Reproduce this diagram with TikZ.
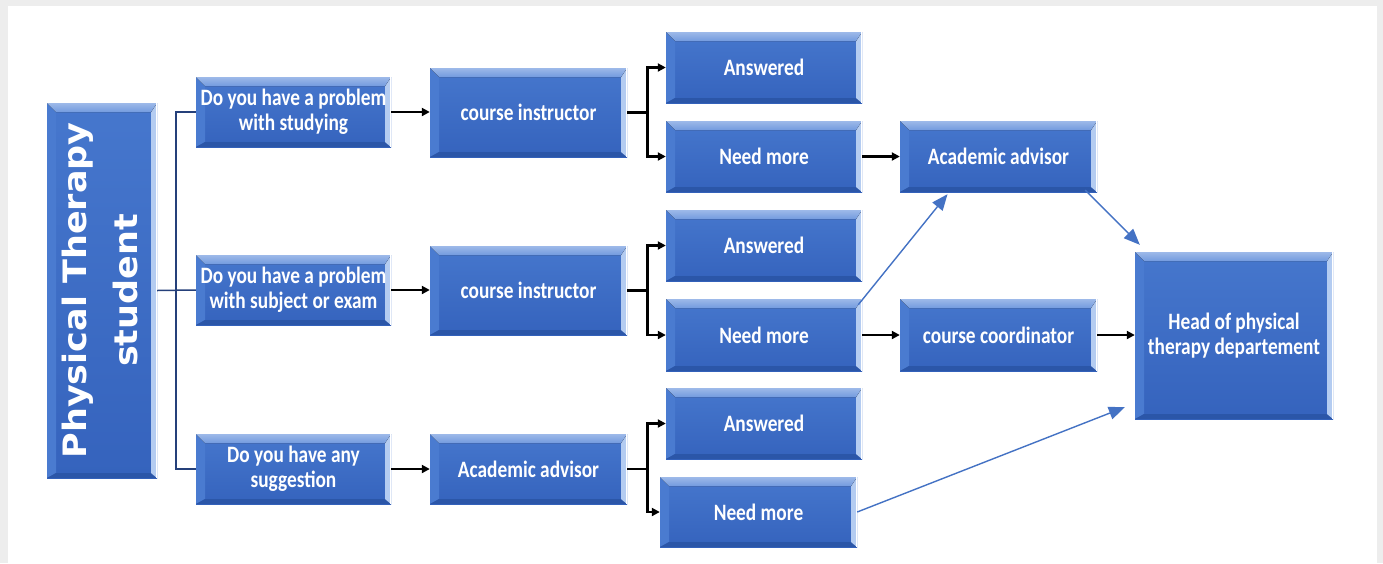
\documentclass[tikz,border=0pt]{standalone}
\usepackage{fontspec}
\usepackage{graphicx}
\usetikzlibrary{arrows.meta,calc}
\newfontfamily\boxfont[FakeStretch=0.823]{Carlito}
\newfontfamily\ptfont{DejaVu Sans}
\definecolor{frame}{HTML}{EDEDED}
\definecolor{boxtop}{HTML}{4677CD}
\definecolor{boxbot}{HTML}{3563BD}
\definecolor{bevtop}{HTML}{739BDF}
\definecolor{bevleft}{HTML}{4A7BD0}
\definecolor{bevright}{HTML}{B4CCF1}
\definecolor{bevbot}{HTML}{2B56A8}
\definecolor{navy}{HTML}{25407A}
\definecolor{bluearr}{HTML}{4472C4}
\tikzset{
  box/.style={rectangle, inner sep=0pt, top color=boxtop, bottom color=boxbot,
    text=white, align=center, font=\boxfont\bfseries\fontsize{23.5}{25}\selectfont,
    path picture={
      \coordinate (bnw) at (path picture bounding box.north west);
      \coordinate (bne) at (path picture bounding box.north east);
      \coordinate (bsw) at (path picture bounding box.south west);
      \coordinate (bse) at (path picture bounding box.south east);
      \fill[bevleft] (bnw) -- ([shift={(9pt,-9pt)}]bnw) -- ([shift={(9pt,5pt)}]bsw) -- (bsw) -- cycle;
      \fill[bevbot] (bsw) -- ([shift={(9pt,5pt)}]bsw) -- ([shift={(-6pt,5pt)}]bse) -- (bse) -- cycle;
      \fill[bevright] (bne) -- (bse) -- ([shift={(-6pt,5pt)}]bse) -- ([shift={(-6pt,-9pt)}]bne) -- cycle;
      \fill[top color=bevtop!70!white, bottom color=bevtop] (bnw) -- (bne) -- ([shift={(-6pt,-9pt)}]bne) -- ([shift={(9pt,-9pt)}]bnw) -- cycle;
      \draw[white, line width=1pt] ([shift={(-1pt,0pt)}]bne) -- ([shift={(-1pt,0pt)}]bse);
    }},
  blk/.style={draw=black, line width=2.8pt, -{Triangle[length=8pt,width=8pt]}},
  brk/.style={draw=navy, line width=1.5pt},
  barr/.style={draw=bluearr, line width=1.4pt, -{Triangle[length=16pt,width=13pt]}}
}
\begin{document}
\begin{tikzpicture}[x=1pt,y=-1pt]
\useasboundingbox (0,0) rectangle (1383,563);
\fill[frame] (0,0) rectangle (1383,563);
\fill[white] (8,6) rectangle (1377,563);

% nodes
\node[box, minimum width=110pt, minimum height=375pt] (PT) at (102,290.5) {};
\node[text=white, rotate=90, align=center, font=\ptfont\bfseries\fontsize{35}{51}\selectfont] (PTtext) at ($(PT.center)+(-2,0)$) {\scalebox{1}[0.92]{Physical Therapy}\\\scalebox{1}[0.92]{student}};

\node[box, minimum width=195pt, minimum height=70pt] (Q1) at (293.5,112) {Do you have a problem\\with studying};
\node[box, minimum width=195pt, minimum height=70pt] (Q2) at (293.5,290) {Do you have a problem\\with subject or exam};
\node[box, minimum width=195pt, minimum height=70pt] (Q3) at (293.5,469) {Do you have any\\suggestion};

\node[box, minimum width=197pt, minimum height=89pt] (CI1) at (528.5,112.5) {course instructor};
\node[box, minimum width=197pt, minimum height=89pt] (CI2) at (528.5,290.5) {course instructor};
\node[box, minimum width=197pt, minimum height=70pt] (AA3) at (528.5,469) {Academic advisor};

\node[box, minimum width=196pt, minimum height=71pt] (Ans1) at (764,67.5) {Answered};
\node[box, minimum width=196pt, minimum height=71pt] (NM1) at (764,156.5) {Need more};
\node[box, minimum width=196pt, minimum height=71pt] (Ans2) at (764,245.5) {Answered};
\node[box, minimum width=196pt, minimum height=72pt] (NM2) at (764,335) {Need more};
\node[box, minimum width=196pt, minimum height=71pt] (Ans3) at (764,423.5) {Answered};
\node[box, minimum width=197pt, minimum height=70pt] (NM3) at (758.5,512) {Need more};

\node[box, minimum width=197pt, minimum height=71pt] (AAR) at (998.5,156.5) {Academic advisor};
\node[box, minimum width=197pt, minimum height=72pt] (CC) at (998.5,335) {course coordinator};
\node[box, minimum width=198pt, minimum height=167pt] (Head) at (1234,335.5) {Head of physical\\therapy departement};

% bracket from student
\coordinate (bx) at ($(PT.east)+(19,0)$);
\draw[brk] (PT.east) -- (Q2.west);
\draw[brk] (Q1.west) -| (bx) |- (Q3.west);

% question -> responder
\draw[blk] (Q1.east) -- (Q1.east -| CI1.west);
\draw[blk] (Q2.east) -- (Q2.east -| CI2.west);
\draw[blk] (Q3.east) -- (Q3.east -| AA3.west);

% splits
\coordinate (s1) at ($(CI1.east)+(20,0)$);
\coordinate (s2) at ($(CI2.east)+(20,0)$);
\coordinate (s3) at ($(AA3.east)+(20,0)$);
\draw[blk] (CI1.east) -- (s1) |- (Ans1.west);
\draw[blk] (s1) |- (NM1.west);
\draw[blk] (CI2.east) -- (s2) |- (Ans2.west);
\draw[blk] (s2) |- (NM2.west);
\draw[blk] (AA3.east) -- (s3) |- (Ans3.west);
\draw[blk] (s3) |- (NM3.west);

% escalation
\draw[blk] (NM1.east) -- (NM1.east -| AAR.west);
\draw[blk] (NM2.east) -- (NM2.east -| CC.west);
\draw[blk] (CC.east) -- (CC.east -| Head.west);

\draw[barr] ($(NM2.north east)+(-4,6)$) -- ($(AAR.south)+(-51,2)$);
\draw[barr] ($(AAR.south east)+(-12,-2)$) -- ($(Head.north west)+(5,-7)$);
\draw[barr] (NM3.east) -- ($(Head.south west)+(-10,-12)$);
\end{tikzpicture}
\end{document}
